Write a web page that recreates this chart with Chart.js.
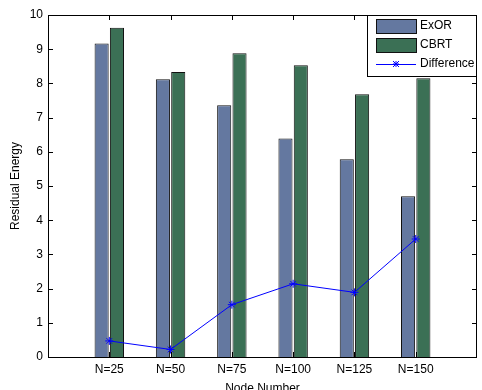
<!DOCTYPE html>
<html>
<head>
<meta charset="utf-8">
<script src="https://cdn.jsdelivr.net/npm/chart.js@4/dist/chart.umd.min.js"></script>
<style>
  html, body { margin: 0; padding: 0; background: #fff; }
  #wrap { width: 482px; height: 390px; }
</style>
</head>
<body>
<div id="wrap"><canvas id="c" width="482" height="390"></canvas></div>
<script>
const nodeLabels = ['N=25', 'N=50', 'N=75', 'N=100', 'N=125', 'N=150'];
const exorValues = [9.17, 8.12, 7.36, 6.39, 5.78, 4.70];
const cbrtValues = [9.63, 8.33, 8.88, 8.53, 7.68, 8.15];
const diffValues = [0.47, 0.22, 1.53, 2.14, 1.89, 3.45];
const yTicks = [0, 1, 2, 3, 4, 5, 6, 7, 8, 9, 10];

// blank slots at both ends so the categories sit at 1..6 on a 0..7 axis
const pad = arr => [null, ...arr, null];

const FONT = '"Liberation Sans", Arial, Helvetica, sans-serif';

// matlab style box with inward ticks, plus the legend
const boxPlugin = {
  id: 'box',
  afterDraw(chart) {
    const { ctx, chartArea: a, scales } = chart;
    ctx.save();
    ctx.strokeStyle = '#000';
    ctx.lineWidth = 1;
    ctx.strokeRect(a.left + 0.5, a.top + 0.5, a.right - a.left - 1, a.bottom - a.top);
    const t = 5;
    ctx.beginPath();
    yTicks.forEach(v => {
      const y = Math.round(scales.y.getPixelForValue(v)) + 0.5;
      ctx.moveTo(a.left, y); ctx.lineTo(a.left + t, y);
      ctx.moveTo(a.right, y); ctx.lineTo(a.right - t, y);
    });
    nodeLabels.forEach((l, i) => {
      const x = Math.round(scales.x.getPixelForValue(i + 1)) + 0.5;
      ctx.moveTo(x, a.top); ctx.lineTo(x, a.top + t);
      ctx.moveTo(x, a.bottom); ctx.lineTo(x, a.bottom - t);
    });
    ctx.stroke();

    // legend
    const lx = 367, ly = a.top, lw = a.right - lx, lh = 61;
    ctx.fillStyle = '#fff';
    ctx.fillRect(lx, ly, lw, lh);
    ctx.strokeRect(lx + 0.5, ly + 0.5, lw - 1, lh);
    ctx.font = '12px ' + FONT;
    ctx.textBaseline = 'middle';
    chart.data.datasets.forEach((ds, i) => {
      const cy = ly + 11 + i * 19;
      if (ds.type === 'line') {
        ctx.strokeStyle = ds.borderColor;
        ctx.beginPath();
        ctx.moveTo(376, cy + 0.5); ctx.lineTo(416, cy + 0.5);
        ctx.stroke();
        ctx.beginPath();
        const r = 3;
        ctx.moveTo(396 - r, cy); ctx.lineTo(396 + r, cy);
        ctx.moveTo(396, cy - r); ctx.lineTo(396, cy + r);
        ctx.moveTo(396 - r, cy - r); ctx.lineTo(396 + r, cy + r);
        ctx.moveTo(396 - r, cy + r); ctx.lineTo(396 + r, cy - r);
        ctx.stroke();
      } else {
        ctx.fillStyle = ds.backgroundColor;
        ctx.fillRect(376, cy - 7, 40, 14);
        ctx.strokeStyle = '#111';
        ctx.strokeRect(376.5, cy - 6.5, 40, 14);
      }
      ctx.fillStyle = '#000';
      ctx.fillText(ds.label, 420, cy);
    });
    ctx.restore();
  }
};

new Chart(document.getElementById('c'), {
  type: 'bar',
  data: {
    labels: ['', ...nodeLabels, ''],
    datasets: [
      {
        label: 'ExOR',
        data: pad(exorValues),
        backgroundColor: '#6478a0',
        borderColor: '#111',
        borderWidth: 1,
        categoryPercentage: 0.5,
        barPercentage: 0.92,
        order: 2
      },
      {
        label: 'CBRT',
        data: pad(cbrtValues),
        backgroundColor: '#3b7055',
        borderColor: '#111',
        borderWidth: 1,
        categoryPercentage: 0.5,
        barPercentage: 0.92,
        order: 2
      },
      {
        type: 'line',
        label: 'Difference',
        data: pad(diffValues),
        borderColor: '#0000ff',
        backgroundColor: '#0000ff',
        borderWidth: 1,
        pointStyle: 'star',
        pointRadius: 4,
        pointBorderWidth: 1,
        tension: 0,
        order: 1
      }
    ]
  },
  options: {
    responsive: false,
    animation: false,
    layout: { padding: { top: 15, right: 1, left: 0, bottom: 0 } },
    plugins: {
      legend: { display: false },
      tooltip: { enabled: false }
    },
    scales: {
      x: {
        offset: false,
        grid: { display: false, drawTicks: false },
        border: { display: false },
        ticks: {
          color: '#000',
          font: { family: FONT, size: 12 },
          padding: 5,
          maxRotation: 0,
          autoSkip: false
        },
        title: {
          display: true,
          text: 'Node Number',
          color: '#000',
          font: { family: FONT, size: 12 },
          padding: { top: 0, bottom: -6 }
        },
        afterFit: s => { s.height = 33; }
      },
      y: {
        min: 0,
        max: 10,
        grid: { display: false, drawTicks: false },
        border: { display: false },
        ticks: {
          stepSize: 1,
          color: '#000',
          font: { family: FONT, size: 12 },
          padding: 5
        },
        title: {
          display: true,
          text: 'Residual Energy',
          color: '#000',
          font: { family: FONT, size: 12 },
          padding: { top: 8, bottom: 0 }
        },
        afterFit: s => { s.width = 48; }
      }
    }
  },
  plugins: [boxPlugin]
});
</script>
</body>
</html>
